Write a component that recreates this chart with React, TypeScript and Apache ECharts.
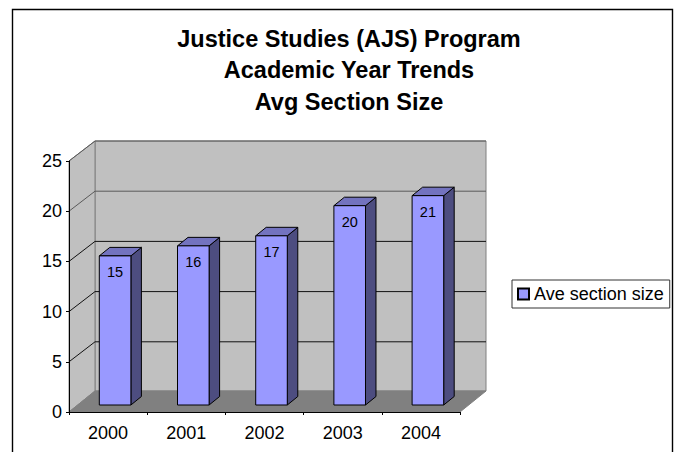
import React, { useEffect, useRef } from "react";
import * as echarts from "echarts";

const titleLines = ["Justice Studies (AJS) Program", "Academic Year Trends", "Avg Section Size"];
const categories = ["2000", "2001", "2002", "2003", "2004"];
const seriesName = "Ave section size";
const sectionSize = [15, 16, 17, 20, 21];
const yTicks = [0, 5, 10, 15, 20, 25];

const FONT = "'Liberation Sans', Arial, sans-serif";
const DEPTH_X = 26;
const DEPTH_Y = 21;

export default function App() {
  const ref = useRef<HTMLDivElement>(null);
  useEffect(() => {
    const chart = echarts.init(ref.current!, null, { renderer: "svg" });
    chart.setOption({
      animation: false,
      backgroundColor: "#ffffff",
      textStyle: { fontFamily: FONT },
      title: {
        text: titleLines.join("\n"),
        left: 344,
        top: 18,
        textAlign: "center",
        textStyle: { fontFamily: FONT, fontWeight: "bold", fontSize: 23.5, lineHeight: 31.5, color: "#000" },
      },
      legend: {
        left: 512,
        top: 280,
        padding: [5, 6, 5, 5],
        borderColor: "#333",
        borderWidth: 1,
        itemWidth: 11,
        itemHeight: 11,
        icon: "rect",
        data: [seriesName],
        textStyle: { fontFamily: FONT, fontSize: 18, color: "#000", padding: [0, 0, 0, 0] },
      },
      graphic: [
        {
          type: "polyline",
          silent: true,
          shape: { points: [[12.5, 460], [12.5, 9.5], [672.5, 9.5], [672.5, 460]] },
          style: { stroke: "#000", lineWidth: 1.4, fill: "none" },
        },
      ],
      grid: { left: 69, top: 161, width: 391, height: 251 },
      xAxis: {
        type: "category",
        data: categories,
        z: 5,
        axisLine: { lineStyle: { color: "#000", width: 1 } },
        axisTick: { show: true, length: 3, alignWithLabel: false, lineStyle: { color: "#000" } },
        axisLabel: { fontFamily: FONT, fontSize: 18, color: "#000", margin: 12 },
      },
      yAxis: {
        type: "value",
        min: 0,
        max: 25,
        interval: 5,
        z: 5,
        splitLine: { show: false },
        axisLine: { show: true, lineStyle: { color: "#000", width: 1 } },
        axisTick: { show: true, length: 3, lineStyle: { color: "#000" } },
        axisLabel: { fontFamily: FONT, fontSize: 18, color: "#000", margin: 7 },
      },
      series: [
        {
          type: "custom",
          coordinateSystem: "cartesian2d",
          silent: true,
          z: 1,
          legendHoverLink: false,
          data: [[0, 0]],
          encode: { x: 0, y: 1 },
          renderItem: (_: any, api: any) => {
            const [x0, y0] = api.coord(["2000", 0]);
            const size = api.size([1, 0])[0];
            const x1 = x0 - size / 2;
            const x2 = x1 + size * categories.length;
            const yTop = api.coord(["2000", 25])[1];
            const children: any[] = [
              {
                type: "polygon",
                shape: { points: [[x1 + DEPTH_X, y0 - DEPTH_Y], [x2 + DEPTH_X, y0 - DEPTH_Y], [x2 + DEPTH_X, yTop - DEPTH_Y + 1], [x1 + DEPTH_X, yTop - DEPTH_Y + 1]] },
                style: { fill: "#c0c0c0", stroke: "#808080", lineWidth: 1 },
              },
              {
                type: "polygon",
                shape: { points: [[x1, y0], [x1 + DEPTH_X, y0 - DEPTH_Y], [x1 + DEPTH_X, yTop - DEPTH_Y + 1], [x1, yTop]] },
                style: { fill: "#c0c0c0", stroke: "#808080", lineWidth: 1 },
              },
              {
                type: "polygon",
                shape: { points: [[x1, y0], [x2, y0], [x2 + DEPTH_X, y0 - DEPTH_Y], [x1 + DEPTH_X, y0 - DEPTH_Y]] },
                style: { fill: "#808080", stroke: "#808080", lineWidth: 1 },
              },
            ];
            yTicks.forEach((v) => {
              if (v === 0) return;
              const y = api.coord(["2000", v])[1];
              const stroke = v >= 20 ? "#5a5a5a" : "#111";
              children.push({
                type: "polyline",
                shape: { points: [[x1, y], [x1 + DEPTH_X, y - DEPTH_Y + 1], [x2 + DEPTH_X, y - DEPTH_Y + 1]] },
                style: { fill: "none", stroke, lineWidth: 1 },
              });
            });
            return { type: "group", children };
          },
        },
        {
          type: "custom",
          name: seriesName,
          coordinateSystem: "cartesian2d",
          z: 3,
          itemStyle: { color: "#9999ff", borderColor: "#000", borderWidth: 1 },
          data: categories.map((c, i) => [c, sectionSize[i]]),
          encode: { x: 0, y: 1 },
          renderItem: (_: any, api: any) => {
            const cat = api.value(0);
            const v = api.value(1);
            const size = api.size([1, 0])[0];
            const w = size * 0.404;
            const cx = api.coord([cat, 0])[0] + 7;
            const xL = cx - w / 2;
            const xR = cx + w / 2;
            const yB = api.coord([cat, 0])[1] - 7;
            const yT = api.coord([cat, v])[1] - 5.5;
            const dx = 10.5;
            const dy = 8.5;
            const stroke = { stroke: "#000", lineWidth: 1 };
            return {
              type: "group",
              children: [
                { type: "polygon", shape: { points: [[xR, yB], [xR + dx, yB - dy], [xR + dx, yT - dy], [xR, yT]] }, style: { fill: "#4d4d80", ...stroke } },
                { type: "polygon", shape: { points: [[xL, yT], [xR, yT], [xR + dx, yT - dy], [xL + dx, yT - dy]] }, style: { fill: "#7373bf", ...stroke } },
                { type: "rect", shape: { x: xL, y: yT, width: xR - xL, height: yB - yT }, style: { fill: "#9999ff", ...stroke } },
                {
                  type: "text",
                  x: cx,
                  y: yT + 16,
                  style: { text: String(v), fill: "#000", font: `14.5px ${FONT}`, align: "center", verticalAlign: "middle" },
                },
              ],
            };
          },
        },
      ],
    });
    return () => chart.dispose();
  }, []);
  return <div ref={ref} style={{ position: "fixed", left: 0, top: 0, width: 674, height: 452 }} />;
}
